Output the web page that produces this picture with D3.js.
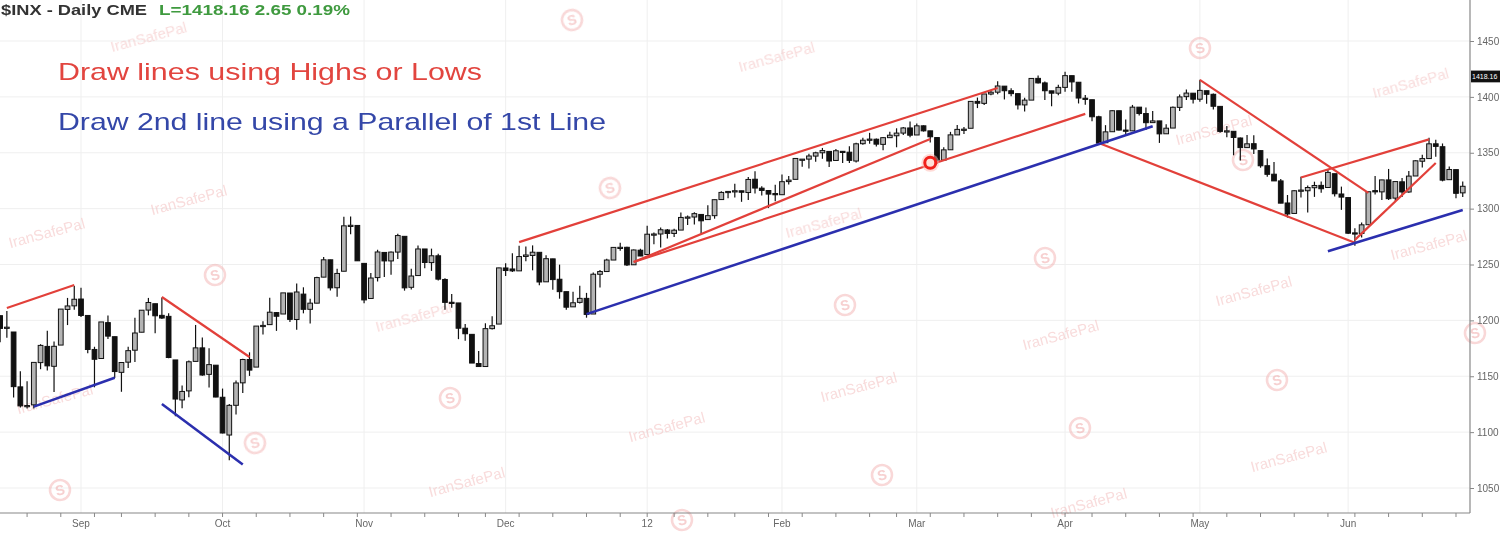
<!DOCTYPE html>
<html><head><meta charset="utf-8">
<script src="https://cdn.jsdelivr.net/npm/d3@7"></script>
<style>html,body{margin:0;padding:0;background:#fff;overflow:hidden}svg{display:block;font-family:"Liberation Sans",Arial,sans-serif}</style>
</head><body><svg id="c" width="1500" height="533"></svg>
<script>
// ---- trading days (Aug 16 2011 .. Jun 26 2012) ----
const monthDays = [
  ["2011-08",[16,17,18,19,22,23,24,25,26,29,30,31]],
  ["2011-09",[1,2,6,7,8,9,12,13,14,15,16,19,20,21,22,23,26,27,28,29,30]],
  ["2011-10",[3,4,5,6,7,10,11,12,13,14,17,18,19,20,21,24,25,26,27,28,31]],
  ["2011-11",[1,2,3,4,7,8,9,10,11,14,15,16,17,18,21,22,23,25,28,29,30]],
  ["2011-12",[1,2,5,6,7,8,9,12,13,14,15,16,19,20,21,22,23,27,28,29,30]],
  ["2012-01",[3,4,5,6,9,10,11,12,13,17,18,19,20,23,24,25,26,27,30,31]],
  ["2012-02",[1,2,3,6,7,8,9,10,13,14,15,16,17,21,22,23,24,27,28,29]],
  ["2012-03",[1,2,5,6,7,8,9,12,13,14,15,16,19,20,21,22,23,26,27,28,29,30]],
  ["2012-04",[2,3,4,5,9,10,11,12,13,16,17,18,19,20,23,24,25,26,27,30]],
  ["2012-05",[1,2,3,4,7,8,9,10,11,14,15,16,17,18,21,22,23,24,25,29,30,31]],
  ["2012-06",[1,4,5,6,7,8,11,12,13,14,15,18,19,20,21,22,25,26]]
];
const dates = monthDays.flatMap(([m,ds]) => ds.map(d => m + "-" + String(d).padStart(2,"0")));

const open = [
 1204.2,1192.9,1189.6,1140.5,1123.6,1124.4,1162.2,1176.7,1158.9,1177.9,1209.8,1213.0,
 1219.1,1204.4,1173.97,1165.9,1197.98,1185.4,1153.5,1162.6,1173.3,1189.4,1209.2,1214.9,1204.5,1203.6,1164.6,1128.8,1136.9,1163.3,1175.4,1151.7,1159.9,
 1131.2,1097.4,1124.0,1144.1,1165.0,1158.2,1194.6,1196.2,1206.96,1205.7,1224.5,1200.8,1223.5,1209.9,1215.4,1238.7,1254.2,1229.2,1243.97,1284.4,1284.96,
 1251.0,1219.6,1238.3,1260.8,1253.2,1261.1,1275.2,1229.6,1240.1,1263.9,1251.7,1257.8,1236.6,1216.2,1215.6,1192.98,1187.5,1161.4,1158.7,1192.6,1196.7,
 1246.9,1246.0,1244.3,1257.2,1258.1,1260.9,1234.5,1255.05,1236.8,1225.7,1212.1,1216.1,1219.7,1205.7,1241.25,1243.7,1254.0,1265.0,1265.4,1249.75,1262.8,
 1258.9,1277.0,1277.3,1280.9,1277.8,1280.8,1292.0,1292.5,1294.8,1290.2,1293.7,1308.1,1314.5,1315.3,1315.96,1314.4,1326.3,1318.3,1316.2,1313.5,
 1312.45,1324.2,1326.2,1344.3,1344.3,1347.0,1349.97,1351.2,1343.1,1351.3,1350.5,1342.6,1358.1,1361.2,1362.1,1357.5,1363.5,1365.2,1367.6,1372.2,
 1365.9,1374.1,1369.6,1363.6,1343.4,1352.65,1365.97,1370.8,1371.9,1395.95,1394.2,1402.55,1404.2,1409.6,1405.5,1402.9,1392.8,1397.1,1416.55,1412.5,1405.4,1403.3,
 1408.5,1418.98,1413.1,1398.8,1397.45,1382.2,1358.98,1368.8,1387.6,1370.3,1369.6,1390.8,1385.1,1376.96,1378.5,1366.97,1372.1,1390.6,1400.2,1403.3,
 1397.9,1405.5,1402.3,1391.5,1368.8,1369.2,1363.2,1354.6,1358.1,1351.9,1338.4,1330.8,1324.8,1305.05,1295.7,1316.1,1316.0,1318.7,1320.8,1318.9,1331.25,1313.1,
 1309.9,1278.3,1277.8,1285.6,1316.1,1314.99,1325.7,1309.4,1324.0,1314.9,1329.2,1342.4,1344.8,1358.0,1355.4,1325.9,1334.9,1314.1
];
const high = [
 1204.2,1208.5,1189.6,1154.5,1145.5,1162.4,1178.7,1190.7,1181.2,1210.1,1220.1,1230.7,
 1229.3,1204.4,1176.4,1198.6,1204.4,1185.4,1162.5,1176.4,1202.4,1209.1,1220.1,1214.9,1220.4,1206.3,1164.6,1141.7,1164.2,1195.9,1184.7,1175.1,1159.9,
 1138.99,1125.1,1146.1,1165.6,1171.4,1194.9,1199.2,1220.3,1207.5,1224.6,1224.5,1233.1,1229.6,1219.4,1239.0,1256.6,1254.2,1246.3,1292.7,1293.0,1284.96,
 1251.0,1242.5,1263.2,1260.8,1261.7,1277.6,1275.2,1246.2,1266.98,1263.9,1264.2,1259.6,1237.7,1223.5,1215.6,1196.8,1187.5,1172.7,1197.4,1203.7,1247.1,
 1251.1,1260.1,1266.7,1266.0,1267.1,1260.9,1258.3,1255.05,1249.9,1225.7,1225.6,1231.0,1224.6,1242.8,1245.1,1255.2,1265.4,1269.4,1265.9,1263.5,1264.1,
 1284.6,1278.7,1283.05,1281.8,1281.99,1296.5,1293.8,1296.8,1294.8,1303.0,1308.1,1315.5,1315.4,1322.3,1315.96,1328.3,1333.5,1320.1,1316.2,1321.4,
 1330.5,1329.2,1345.3,1344.4,1349.2,1351.0,1354.3,1351.2,1353.35,1351.3,1355.9,1359.0,1363.4,1367.8,1362.7,1364.2,1368.9,1371.9,1373.1,1378.04,
 1376.2,1374.5,1369.6,1363.6,1354.85,1368.7,1374.8,1373.0,1396.1,1399.4,1402.6,1405.9,1414.0,1409.6,1407.75,1402.9,1399.2,1416.6,1419.15,1413.65,1405.4,1410.9,
 1422.4,1419.0,1413.1,1401.6,1397.45,1383.0,1374.7,1388.1,1387.6,1379.7,1392.8,1390.8,1390.5,1387.4,1378.5,1375.6,1391.4,1402.1,1406.6,1403.3,
 1415.3,1405.5,1403.1,1391.5,1373.9,1369.2,1363.7,1365.9,1365.7,1351.9,1344.9,1341.8,1326.4,1312.2,1316.4,1328.5,1320.7,1324.1,1324.2,1334.9,1331.25,1319.7,
 1309.9,1282.55,1287.6,1315.1,1329.1,1325.8,1335.5,1324.3,1327.3,1333.7,1343.3,1348.2,1363.5,1361.6,1358.3,1337.8,1334.9,1324.2
];
const low = [
 1180.5,1184.5,1131.0,1122.0,1121.1,1121.1,1156.3,1155.1,1135.9,1177.9,1195.8,1209.4,
 1203.0,1170.6,1140.1,1165.9,1183.3,1148.4,1136.1,1157.4,1162.7,1189.4,1204.5,1188.4,1201.3,1166.2,1114.2,1121.4,1131.1,1163.3,1150.4,1139.9,1131.3,
 1098.9,1074.8,1115.7,1134.9,1150.3,1158.2,1187.3,1196.2,1190.6,1205.7,1198.6,1191.5,1206.3,1197.3,1215.4,1238.7,1226.8,1221.1,1243.97,1277.0,1253.2,
 1215.4,1219.6,1234.8,1238.9,1240.8,1254.99,1226.6,1227.7,1240.1,1246.7,1244.3,1235.7,1209.4,1211.4,1183.2,1181.7,1161.8,1158.7,1158.7,1191.8,1196.7,
 1239.7,1243.4,1244.3,1253.0,1244.8,1231.5,1234.5,1227.3,1219.4,1209.5,1212.1,1215.2,1202.4,1205.7,1229.5,1243.7,1254.0,1262.3,1248.6,1249.75,1257.5,
 1258.9,1268.1,1265.3,1273.3,1274.6,1280.8,1285.4,1285.8,1277.6,1290.2,1290.99,1308.1,1309.2,1309.9,1306.1,1307.65,1313.6,1311.7,1300.5,1306.7,
 1312.45,1321.6,1326.2,1337.5,1335.9,1341.95,1344.6,1337.35,1343.1,1340.8,1340.8,1341.2,1357.2,1358.1,1355.5,1352.3,1363.5,1354.9,1365.97,1363.8,
 1365.9,1368.95,1359.1,1340.03,1343.4,1352.65,1365.97,1366.7,1371.9,1389.97,1392.8,1401.5,1402.4,1397.7,1400.6,1388.7,1386.9,1397.1,1411.95,1397.2,1391.6,1401.4,
 1404.5,1404.6,1394.1,1392.9,1378.2,1357.4,1358.98,1368.8,1369.85,1365.4,1369.6,1383.3,1370.3,1376.96,1358.8,1366.97,1372.1,1387.3,1397.3,1394.0,
 1395.7,1393.9,1388.7,1367.96,1363.9,1347.75,1343.1,1354.6,1348.9,1336.6,1328.5,1324.8,1304.9,1291.98,1295.7,1310.0,1296.5,1310.5,1314.2,1318.9,1310.76,1298.9,
 1277.25,1266.7,1274.2,1285.6,1312.7,1307.8,1307.7,1306.6,1310.5,1314.1,1329.2,1336.8,1344.8,1346.45,1324.4,1325.9,1309.3,1310.3
];
const close = [
 1192.8,1193.9,1140.7,1123.5,1123.8,1162.4,1177.6,1159.3,1176.8,1210.1,1212.9,1218.9,
 1204.4,1173.97,1165.2,1198.6,1185.9,1154.2,1162.3,1172.9,1188.7,1209.1,1216.0,1204.1,1202.1,1166.8,1129.6,1136.4,1162.95,1175.4,1151.1,1160.4,1131.4,
 1099.2,1123.95,1144.0,1164.97,1155.5,1194.9,1195.5,1207.3,1203.7,1224.6,1200.9,1225.4,1209.9,1215.4,1238.3,1254.2,1229.1,1242.0,1284.6,1285.1,1253.3,
 1218.3,1237.9,1261.2,1253.2,1261.1,1275.9,1229.1,1239.7,1263.9,1251.8,1257.8,1236.9,1216.1,1215.7,1192.98,1188.04,1161.8,1158.7,1192.6,1195.2,1246.96,
 1244.6,1244.3,1257.1,1258.5,1261.0,1234.35,1255.2,1236.5,1225.7,1211.8,1215.75,1219.7,1205.35,1241.3,1243.7,1254.0,1265.3,1265.4,1249.6,1263.0,1257.6,
 1277.1,1277.3,1281.1,1277.8,1280.7,1292.1,1292.5,1295.5,1289.1,1293.7,1308.0,1314.5,1315.4,1316.0,1314.65,1326.1,1318.4,1316.3,1313.0,1312.4,
 1324.1,1325.5,1344.9,1344.3,1347.1,1349.96,1351.95,1342.6,1351.8,1350.5,1343.2,1358.0,1361.2,1362.2,1357.7,1363.5,1365.7,1367.6,1372.2,1365.7,
 1374.1,1369.6,1364.3,1343.4,1352.6,1366.0,1370.9,1371.1,1395.95,1394.3,1402.6,1404.2,1409.75,1405.5,1402.9,1392.8,1397.1,1416.5,1412.5,1405.5,1403.3,1408.5,
 1419.0,1413.4,1398.96,1398.1,1382.2,1358.6,1368.7,1387.6,1370.3,1369.6,1390.8,1385.1,1376.9,1378.5,1366.9,1371.97,1390.7,1399.98,1403.4,1397.9,
 1405.8,1402.3,1391.6,1369.1,1369.6,1363.7,1354.6,1357.99,1353.4,1338.35,1330.7,1324.8,1304.9,1295.2,1315.99,1316.6,1318.9,1320.7,1317.8,1332.4,1313.3,1310.3,
 1278.0,1278.2,1285.5,1315.1,1314.99,1325.7,1308.9,1324.2,1314.9,1329.1,1342.8,1344.8,1357.98,1355.7,1325.5,1335.0,1313.7,1319.99
];

// ---- axis tick labels ----
const priceTicks = [1050,1100,1150,1200,1250,1300,1350,1400,1450];
const monthTickDates  = ["2011-09-01","2011-10-03","2011-11-01","2011-12-01","2012-01-03","2012-02-01","2012-03-01","2012-04-02","2012-05-01","2012-06-01"];
const monthTickLabels = ["Sep","Oct","Nov","Dec","12","Feb","Mar","Apr","May","Jun"];
const lastPrice = 1418.16;

// ---- drawn trend lines: [date, price] pairs ----
const redLines = [
  [["2011-08-17",1211.0],["2011-08-31",1231.7]],
  [["2011-09-20",1220.9],["2011-10-07",1167.2]],
  [["2011-12-05",1270.0],["2012-03-19",1407.9]],
  [["2011-12-29",1252.2],["2012-03-05",1362.3]],
  [["2011-12-29",1252.2],["2012-04-05",1384.8]],
  [["2012-04-10",1358.7],["2012-06-04",1269.5]],
  [["2012-05-01",1415.2],["2012-06-06",1314.1]],
  [["2012-05-22",1327.9],["2012-06-19",1362.0]],
  [["2012-06-04",1272.0],["2012-06-20",1340.8]]
];
const blueLines = [
  [["2011-08-23",1122.8],["2011-09-09",1148.6]],
  [["2011-09-20",1125.2],["2011-10-06",1071.1]],
  [["2011-12-19",1205.6],["2012-04-20",1373.8]],
  [["2012-05-29",1261.8],["2012-06-26",1298.8]]
];
const markedPoint = ["2012-03-05",1341.0];

// ---- layout ----
const W = 1500, H = 533, plotRight = 1470, plotBottom = 513;
const svg = d3.select("#c");
svg.append("rect").attr("width",W).attr("height",H).attr("fill","#fff");

const x = d3.scaleBand().domain(dates).range([-3.25, 1466.1]).paddingInner(0.3).paddingOuter(0.15);
const xc = d => x(d) + x.bandwidth()/2;
const y = d3.scaleLinear().domain([1050,1450]).range([488,41]);

// grid
const grid = svg.append("g").attr("stroke","#efefef").attr("stroke-width",1);
grid.selectAll("line.v").data(monthTickDates).join("line")
  .attr("x1",d=>xc(d)).attr("x2",d=>xc(d)).attr("y1",0).attr("y2",plotBottom);
grid.selectAll("line.h").data(priceTicks).join("line")
  .attr("x1",0).attr("x2",plotRight).attr("y1",d=>y(d)).attr("y2",d=>y(d));

// watermarks (decorative)
const wmText = [[150,42],[778,62],[1412,88],[1215,135],[190,205],[825,228],[1430,250],[48,238],[1255,296],[415,322],[1062,340],[860,392],[56,404],[668,432],[1290,462],[468,487],[1090,508]];
const wmLogo = [[572,20],[1200,48],[610,188],[1243,160],[1045,258],[215,275],[845,305],[1475,333],[1277,380],[450,398],[1080,428],[255,443],[882,475],[60,490],[682,520]];
const wm = svg.append("g").attr("opacity",0.5);
wm.selectAll("text").data(wmText).join("text")
  .attr("transform",d=>`translate(${d[0]},${d[1]}) rotate(-15)`)
  .attr("text-anchor","middle").attr("font-size",15).attr("fill","#f2b8b8").text("IranSafePal");
const lg = wm.selectAll("g.logo").data(wmLogo).join("g").attr("transform",d=>`translate(${d[0]},${d[1]}) rotate(-15)`);
lg.append("circle").attr("r",10).attr("fill","none").attr("stroke","#f2b0b0").attr("stroke-width",2.5);
lg.append("text").attr("text-anchor","middle").attr("dy",5).attr("font-size",14).attr("font-weight","bold").attr("fill","#eea0a0").text("S");

// candles
const candles = dates.map((d,i)=>({d, o:open[i], h:high[i], l:low[i], c:close[i]}));
const cg = svg.append("g");
cg.selectAll("line").data(candles).join("line")
  .attr("x1",d=>xc(d.d)).attr("x2",d=>xc(d.d))
  .attr("y1",d=>y(d.h)).attr("y2",d=>y(d.l))
  .attr("stroke","#111").attr("stroke-width",1.2);
cg.selectAll("rect").data(candles).join("rect")
  .attr("x",d=>x(d.d)).attr("width",x.bandwidth())
  .attr("y",d=>y(Math.max(d.o,d.c)))
  .attr("height",d=>Math.max(1.2, Math.abs(y(d.o)-y(d.c))))
  .attr("fill",d=>d.c>=d.o ? "#b4b4b4" : "#111")
  .attr("stroke","#111").attr("stroke-width",1);

// trend lines
const lineGen = d3.line().x(p=>xc(p[0])).y(p=>y(p[1]));
svg.append("g").selectAll("path").data(redLines).join("path")
  .attr("d",lineGen).attr("fill","none").attr("stroke","#e2403a").attr("stroke-width",2.2);
svg.append("g").selectAll("path").data(blueLines).join("path")
  .attr("d",lineGen).attr("fill","none").attr("stroke","#2b2fae").attr("stroke-width",2.6);

// marked point
svg.append("circle").attr("cx",xc(markedPoint[0])).attr("cy",y(markedPoint[1])).attr("r",9)
  .attr("fill","#ffb8b0").attr("opacity",0.5);
svg.append("circle").attr("cx",xc(markedPoint[0])).attr("cy",y(markedPoint[1])).attr("r",5.5)
  .attr("fill","#ffe0d8").attr("stroke","#f0201a").attr("stroke-width",3);

// right axis
svg.append("line").attr("x1",plotRight).attr("x2",plotRight).attr("y1",0).attr("y2",plotBottom).attr("stroke","#888").attr("stroke-width",1.2);
const ya = svg.append("g").attr("transform",`translate(${plotRight},0)`)
  .call(d3.axisRight(y).tickValues(priceTicks).tickSize(4).tickFormat(d3.format("d")));
ya.select(".domain").remove();
ya.selectAll("line").attr("stroke","#888");
ya.selectAll("text").attr("font-size",10).attr("fill","#666").attr("font-family","Liberation Sans, Arial, sans-serif");
// last price box
const lp = svg.append("g").attr("transform",`translate(${plotRight+1},${y(lastPrice)})`);
lp.append("rect").attr("x",0).attr("y",-6).attr("width",29).attr("height",12).attr("fill","#111");
lp.append("text").attr("x",1).attr("y",2.5).attr("font-size",7).attr("fill","#fff").text(lastPrice.toFixed(2));

// bottom axis
svg.append("line").attr("x1",0).attr("x2",plotRight).attr("y1",plotBottom).attr("y2",plotBottom).attr("stroke","#888").attr("stroke-width",1.2);
const weekStarts = dates.filter((d,i)=> i===0 ? false : (new Date(d).getUTCDay() < new Date(dates[i-1]).getUTCDay()));
const xa = svg.append("g").attr("transform",`translate(0,${plotBottom})`)
  .call(d3.axisBottom(x).tickValues(weekStarts).tickSize(4).tickFormat(""));
xa.select(".domain").remove();
xa.selectAll("line").attr("stroke","#888");
svg.append("g").selectAll("text").data(monthTickDates).join("text")
  .attr("x",d=>xc(d)).attr("y",plotBottom+14).attr("text-anchor","middle")
  .attr("font-size",10).attr("fill","#666").text((d,i)=>monthTickLabels[i]);

// header
svg.append("text").attr("x",1).attr("y",15).attr("font-size",14).attr("font-weight","bold").attr("fill","#333")
  .attr("textLength",146).attr("lengthAdjust","spacingAndGlyphs").text("$INX - Daily  CME");
svg.append("text").attr("x",159).attr("y",15).attr("font-size",14).attr("font-weight","bold").attr("fill","#3f9a3f")
  .attr("textLength",191).attr("lengthAdjust","spacingAndGlyphs").text("L=1418.16  2.65  0.19%");

// annotations
svg.append("text").attr("x",58).attr("y",80).attr("font-size",24).attr("fill","#e2453f")
  .attr("textLength",424).attr("lengthAdjust","spacingAndGlyphs").text("Draw lines using Highs or Lows");
svg.append("text").attr("x",58).attr("y",130).attr("font-size",24).attr("fill","#3447a8")
  .attr("textLength",548).attr("lengthAdjust","spacingAndGlyphs").text("Draw 2nd line using a Parallel of 1st Line");
</script></body></html>
